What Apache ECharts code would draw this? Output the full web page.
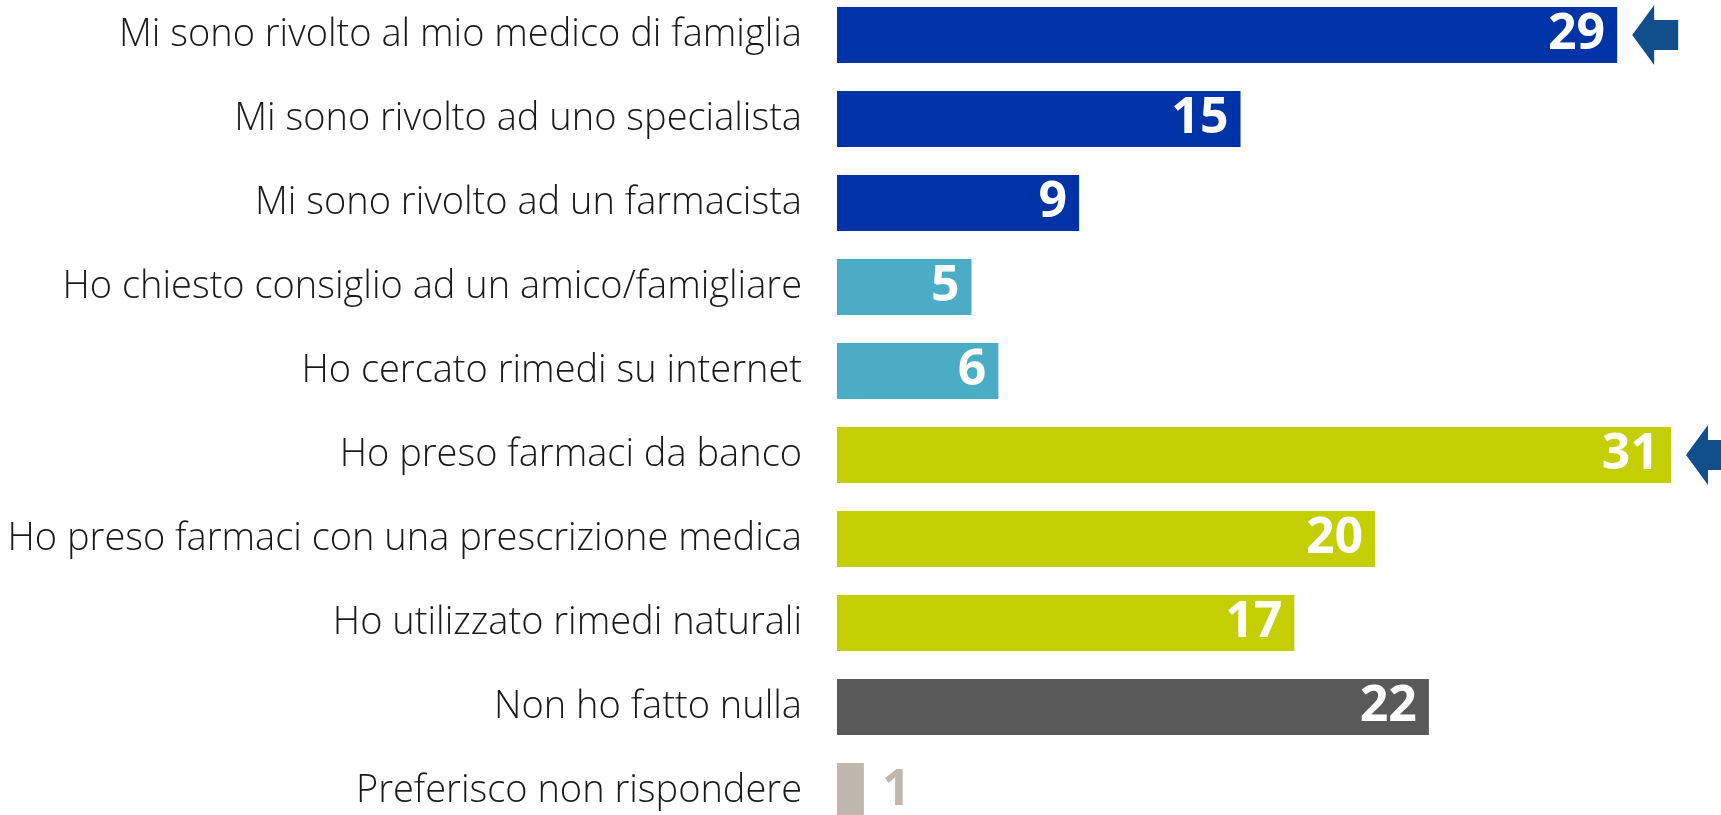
<!DOCTYPE html>
<html>
<head>
<meta charset="utf-8">
<script src="https://cdn.jsdelivr.net/npm/echarts@6/dist/echarts.min.js"></script>
<style>
html,body{margin:0;padding:0;background:#fff;overflow:hidden;width:1721px;height:815px;}
#chart{position:absolute;left:0;top:-7px;width:1721px;height:840px;}
</style>
</head>
<body>
<div id="chart"></div>
<script>
const categories = [
  "Mi sono rivolto al mio medico di famiglia",
  "Mi sono rivolto ad uno specialista",
  "Mi sono rivolto ad un farmacista",
  "Ho chiesto consiglio ad un amico/famigliare",
  "Ho cercato rimedi su internet",
  "Ho preso farmaci da banco",
  "Ho preso farmaci con una prescrizione medica",
  "Ho utilizzato rimedi naturali",
  "Non ho fatto nulla",
  "Preferisco non rispondere"
];
const values = [29, 15, 9, 5, 6, 31, 20, 17, 22, 1];
const groups = [0, 0, 0, 1, 1, 2, 2, 2, 3, 4];
const groupColors = ["#0033A6", "#4BACC6", "#C4CE00", "#595959", "#C0B7AF"];
const highlighted = [0, 5];

const arrowPath = 'path://M0,30 L22,0 L22,15 L46,15 L46,45 L22,45 L22,60 Z';

const chart = echarts.init(document.getElementById('chart'));
const data = values.map((v, i) => {
  const item = { value: v, itemStyle: { color: groupColors[groups[i]] } };
  if (v < 3) {
    item.label = { position: 'right', distance: 18, color: groupColors[groups[i]] };
  }
  return item;
});

chart.setOption({
  animation: false,
  grid: { left: 837, right: 50, top: 0, bottom: 0, containLabel: false },
  xAxis: { type: 'value', min: 0, max: 31, show: false },
  yAxis: {
    type: 'category', data: categories, inverse: true,
    axisLine: { show: false }, axisTick: { show: false },
    axisLabel: { color: '#1a1a1a', fontFamily: 'Open Sans', fontWeight: 300, fontSize: 38, margin: 35 }
  },
  series: [{
    type: 'bar', data: data, barWidth: 56,
    label: {
      show: true, position: 'insideRight', distance: 12, color: '#ffffff',
      fontFamily: 'Open Sans', fontWeight: 'bold', fontSize: 50
    },
    markPoint: {
      symbol: arrowPath, symbolSize: [46, 60], symbolOffset: [38, 0],
      itemStyle: { color: '#134E8C' }, label: { show: false },
      data: highlighted.map(i => ({ coord: [values[i], categories[i]] }))
    }
  }]
});
</script>
</body>
</html>
